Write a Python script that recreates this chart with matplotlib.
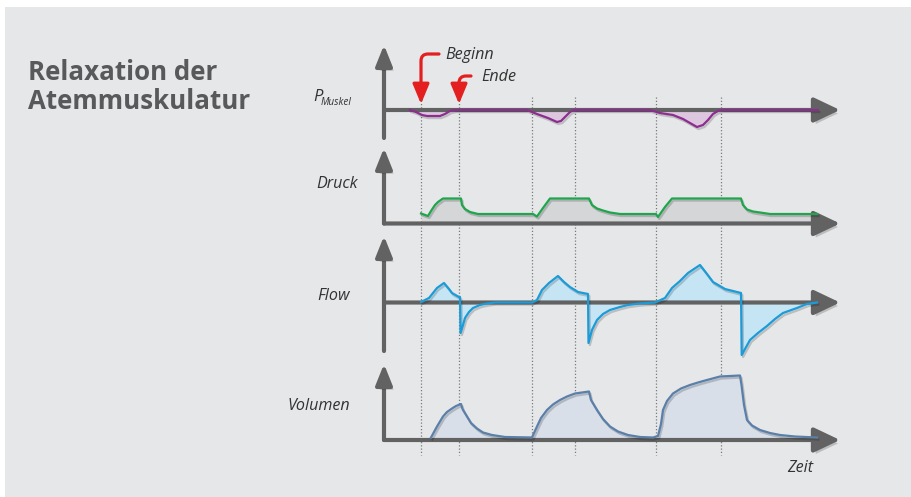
import matplotlib
matplotlib.use('Agg')
import matplotlib.pyplot as plt
import matplotlib.patheffects as pe
from matplotlib.patches import Rectangle

plt.rcParams['font.family'] = ['Open Sans', 'DejaVu Sans']

# time axis (arbitrary units), shared by all four curves
markers_t = [3.7, 7.5, 14.8, 19.1, 27.2, 33.7]

pmus_t = [2.6, 3.2, 3.8, 4.3, 5.6, 6.1, 6.6, 7.1, 14.3, 15.3, 16.4, 17.3, 17.7, 18.2,
          18.6, 19.0, 26.6, 27.6, 28.9, 29.9, 30.6, 31.3, 31.9, 32.4, 32.9, 33.4, 33.8, 43.4]
pmus_v = [0, -0.2, -0.5, -0.6, -0.6, -0.4, -0.1, 0, 0, -0.4, -0.8, -1.2, -1.1, -0.6,
          -0.2, 0, 0, -0.3, -0.5, -0.9, -1.3, -1.7, -1.5, -1.0, -0.4, -0.1, 0, 0]

druck_t = [3.7, 4.4, 4.7, 5.1, 5.4, 5.9, 7.7, 7.8, 8.1, 8.6, 9.4, 10.4, 14.9, 15.3, 15.9,
           16.6, 20.5, 20.8, 21.3, 21.9, 22.6, 23.6, 27.2, 27.4, 28.1, 28.8, 35.7, 35.9,
           36.3, 36.9, 37.6, 38.6, 43.3]
druck_v = [1.0, 0.75, 1.25, 1.85, 2.15, 2.5, 2.5, 1.85, 1.45, 1.15, 0.95, 0.95, 0.95, 0.7,
           1.55, 2.5, 2.5, 1.85, 1.5, 1.3, 1.1, 0.95, 0.95, 0.65, 1.65, 2.5, 2.5, 1.85,
           1.4, 1.2, 1.1, 0.95, 0.95]

flow_t = [3.7, 4.5, 5.3, 6.0, 6.5, 6.8, 7.5, 7.6, 7.65, 7.9, 8.1, 8.5, 8.9, 9.6, 10.3, 11.1,
          14.8, 15.3, 15.8, 16.5, 17.4, 18.0, 18.6, 19.4, 20.4, 20.45, 20.8, 21.3, 21.9,
          22.6, 23.6, 24.4, 25.6, 27.1, 28.1, 28.8, 29.6, 30.4, 31.6, 32.3, 32.9, 34.1,
          35.7, 35.77, 36.6, 37.4, 38.3, 39.1, 39.9, 41.3, 42.3, 43.3]
flow_v = [0.05, 0.45, 1.45, 1.95, 1.35, 0.95, 0.55, 0.55, -3.05, -2.25, -1.55, -0.95, -0.55,
          -0.25, -0.1, 0, 0, 0.25, 1.25, 1.95, 2.65, 2.05, 1.55, 1.05, 0.85, -4.05, -2.75,
          -1.75, -1.15, -0.75, -0.45, -0.25, -0.1, 0, 0.45, 1.45, 2.15, 2.95, 3.75, 2.85,
          2.05, 1.35, 0.95, -5.25, -3.75, -3.05, -2.35, -1.65, -1.05, -0.55, -0.15, 0]

vol_t = [4.7, 5.3, 5.9, 6.3, 6.8, 7.2, 7.7, 7.85, 8.3, 8.7, 9.3, 9.9, 10.8, 12.1, 14.8, 15.3,
         15.7, 16.3, 16.9, 17.6, 18.3, 19.1, 19.8, 20.5, 20.7, 21.3, 21.9, 22.6, 23.4, 24.4,
         25.6, 26.9, 27.4, 27.7, 27.9, 28.3, 28.9, 29.7, 30.6, 31.4, 32.3, 33.6, 34.6, 35.6,
         35.75, 36.0, 36.3, 36.8, 37.6, 38.6, 39.6, 41.1, 43.3]
vol_v = [0.25, 1.35, 2.35, 2.8, 3.15, 3.4, 3.6, 3.1, 2.35, 1.7, 1.15, 0.75, 0.5, 0.3, 0.25,
         1.35, 2.2, 3.0, 3.55, 4.0, 4.35, 4.65, 4.75, 4.85, 4.0, 3.0, 2.1, 1.35, 0.85, 0.5,
         0.3, 0.25, 0.4, 1.6, 3.0, 3.9, 4.65, 5.15, 5.5, 5.75, 6.0, 6.35, 6.4, 6.45,
         5.5, 3.5, 2.0, 1.45, 1.0, 0.7, 0.5, 0.35, 0.25]

W, H = 911, 497
X0, X1 = 384, 840          # pixel x of y-axes and of the arrow tips
PX = 10.0                  # pixels per unit
T_END = (X1 - X0) / PX

BG = '#e6e7e9'
AXIS_GREY = '#626262'
RED = '#e3201f'
TXT = '#333333'

fig = plt.figure(figsize=(W / 100, H / 100), dpi=100, facecolor='white')

bg = fig.add_axes([0, 0, 1, 1])
bg.set_xlim(0, W)
bg.set_ylim(H, 0)
bg.axis('off')
bg.add_patch(Rectangle((5, 7), W, H, color=BG, lw=0))

bg.text(28, 80, 'Relaxation der', fontsize=18.6, fontweight='bold', color='#58595b')
bg.text(28, 109, 'Atemmuskulatur', fontsize=18.6, fontweight='bold', color='#58595b')

lab = dict(fontsize=11.6, style='italic', color=TXT, va='center')
bg.text(313, 101, 'P', fontsize=12, style='italic', color=TXT, va='baseline')
bg.text(321, 105, 'Muskel', fontsize=7.2, style='italic', color=TXT, va='baseline')
bg.text(358, 184, 'Druck', ha='right', **lab)
bg.text(350, 296, 'Flow', ha='right', **lab)
bg.text(350, 406, 'Volumen', ha='right', **lab)
bg.text(800, 468, 'Zeit', ha='center', **lab)
bg.text(445, 55, 'Beginn', ha='left', **lab)
bg.text(481, 77, 'Ende', ha='left', **lab)

# overlay: time on x, pixels on y (marker lines and red arrows)
ov = fig.add_axes([X0 / W, 0, (X1 - X0) / W, 1])
ov.set_xlim(0, T_END)
ov.set_ylim(H, 0)
ov.axis('off')
ov.patch.set_alpha(0)
ov.set_zorder(1)
ov.vlines(markers_t, 97, 455, colors='#7a7a7a', lw=0.9, linestyles=(0, (1, 1.6)))

for t_mark, y_start, dx in [(markers_t[0], 54, 1.8), (markers_t[1], 76, 1.2)]:
    ov.annotate('', xy=(t_mark, 104), xytext=(t_mark + dx, y_start),
                arrowprops=dict(arrowstyle='-|>,head_length=1.2,head_width=0.5',
                                mutation_scale=10, lw=2.3, color=RED,
                                shrinkA=0, shrinkB=0,
                                connectionstyle='angle,angleA=180,angleB=90,rad=7'))

# panels: (axis line y, top px, bottom px)
panels = [
    (110, 45, 138, pmus_t, pmus_v, '#8d2d90', '#dcc7df', True),
    (223.5, 148, 226, druck_t, druck_v, '#1fa54c', '#d5d6d8', False),
    (302.5, 236, 351, flow_t, flow_v, '#1b9bd7', '#c5e5f5', True),
    (440, 364, 442, vol_t, vol_v, '#5a7fa9', '#d8dfe9', False),
]

for axis_y, top, bottom, t, v, col, fill, below in panels:
    ax = fig.add_axes([X0 / W, 1 - bottom / H, (X1 - X0) / W, (bottom - top) / H])
    ax.set_zorder(2)
    ax.patch.set_alpha(0)
    ax.axis('off')
    ax.set_xlim(0, T_END)
    y_lo, y_hi = (axis_y - bottom) / PX, (axis_y - top) / PX
    ax.set_ylim(y_lo, y_hi)

    ax.fill_between(t, v, 0, color=fill, lw=0, zorder=1)

    ah = ax.annotate('', xy=(T_END, 0), xytext=(0, 0),
                     arrowprops=dict(arrowstyle='-|>,head_length=1.6,head_width=0.76',
                                     mutation_scale=10, lw=3, color=AXIS_GREY,
                                     shrinkA=0, shrinkB=0), zorder=2)
    ah.arrow_patch.set_path_effects(
        [pe.withSimplePatchShadow(offset=(2, -2.5), shadow_rgbFace='k', alpha=0.18)])
    av = ax.annotate('', xy=(0, y_hi), xytext=(0, y_lo if below else 0),
                     arrowprops=dict(arrowstyle='-|>,head_length=1.25,head_width=0.5',
                                     mutation_scale=10, lw=3, color=AXIS_GREY,
                                     shrinkA=0, shrinkB=0), zorder=2)
    av.arrow_patch.set_path_effects(
        [pe.withSimplePatchShadow(offset=(2, -2), shadow_rgbFace='k', alpha=0.18)])

    ax.plot(t, v, color=col, lw=1.6, zorder=4, solid_joinstyle='round', clip_on=False,
            path_effects=[pe.SimpleLineShadow(offset=(1, -1.5), alpha=0.18), pe.Normal()])

fig.savefig('out.png', dpi=100, facecolor=fig.get_facecolor())
